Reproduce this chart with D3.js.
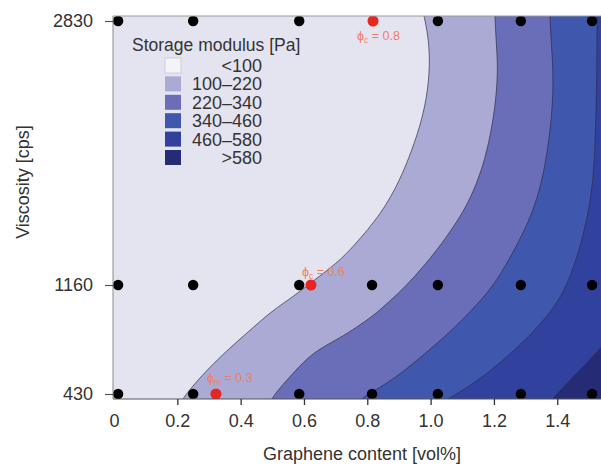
<!DOCTYPE html>
<html><head><meta charset="utf-8">
<script src="https://cdn.jsdelivr.net/npm/d3@7"></script>
<style>
body{margin:0;background:#fff}
svg{display:block}
text{font-family:"Liberation Sans",Arial,Helvetica,sans-serif}
</style>
</head><body>
<svg id="chart" width="601" height="466"></svg>
<script>
// ---------- data ----------
const xTicks = [0, 0.2, 0.4, 0.6, 0.8, 1.0, 1.2, 1.4];
const yTicks = [430, 1160, 2830];
const legendTitle = "Storage modulus [Pa]";
const legendLabels = ["<100", "100–220", "220–340", "340–460", "460–580", ">580"];
const thresholds = [100, 220, 340, 460, 580];

// contour lines [graphene vol%, viscosity cps]
const contour100 = [[0.2116,363],[0.218,410],[0.3127,638],[0.4201,839],[0.5022,993],[0.5654,1080],[0.6286,1185],[0.7044,1299],[0.7549,1400],[0.8465,1615],[0.9033,1824],[0.9413,2014],[0.9728,2204],[0.9918,2394],[0.9981,2583],[0.9918,2742],[0.9791,2862],[0.9728,2925]];
const contour220 = [[0.4927,363],[0.4991,410],[0.5654,571],[0.6286,711],[0.7138,805],[0.7675,879],[0.8181,952],[0.8718,1053],[0.9255,1160],[0.9728,1268],[1.0202,1381],[1.0771,1540],[1.1244,1698],[1.1655,1906],[1.1908,2122],[1.2066,2330],[1.2129,2539],[1.2066,2710],[1.2034,2862],[1.2003,2925]];
const contour340 = [[0.7738,363],[0.7833,403],[0.8149,443],[0.8939,544],[0.9886,711],[1.0613,845],[1.1244,979],[1.1971,1147],[1.2508,1331],[1.2982,1508],[1.3361,1698],[1.3613,1906],[1.3771,2122],[1.3866,2330],[1.3866,2539],[1.3803,2710],[1.3771,2862],[1.374,2925]];
const contour460 = [[1.0455,363],[1.0518,397],[1.0834,430],[1.1655,544],[1.2603,711],[1.3455,892],[1.4087,1060],[1.4498,1255],[1.4782,1445],[1.5035,1666],[1.5161,1887],[1.5224,2204],[1.5256,2583],[1.5256,2862],[1.5256,2925]];
const contour580 = [[1.3771,363],[1.3866,403],[1.4182,470],[1.4498,544],[1.4972,644],[1.5509,772]];
const contours = [contour100, contour220, contour340, contour460, contour580];

// measurement points
const row2830 = [0.013, 0.25, 0.585, 1.023, 1.285, 1.51];
const row1160 = [0.013, 0.25, 0.585, 0.815, 1.023, 1.285, 1.51];
const row430  = [0.013, 0.25, 0.585, 0.815, 1.023, 1.285, 1.51];
// percolation points
const critX = [0.818, 0.622, 0.322];
const critY = [2830, 1160, 430];
const critSub = ["c", "c", "m"];
const critVal = ["0.8", "0.6", "0.3"];

// ---------- styles ----------
const bandColors = ["#e4e4f0", "#aaaad4", "#6a6db8", "#3f57ac", "#30429e", "#252b74"];
const legendSwatch0 = "#f3f3f8";
const labelOffsets = [[-16, 19], [-9, -9], [-9, -12]];

// ---------- layout ----------
const svg = d3.select("#chart");
const L = 113, R = 601, T = 16, B = 399;
const x = d3.scaleLinear().domain([0, 1.535]).range([114, 600]);
const y = d3.scaleLinear().domain([430, 1160, 2830]).range([394, 285, 21]);

svg.append("defs").append("clipPath").attr("id", "clip")
  .append("rect").attr("x", L).attr("y", T).attr("width", R - L).attr("height", B - T);

const plot = svg.append("g").attr("clip-path", "url(#clip)");
plot.append("rect").attr("x", L).attr("y", T).attr("width", R - L).attr("height", B - T)
  .attr("fill", bandColors[0]);

const line = d3.line().x(d => x(d[0])).y(d => y(d[1])).curve(d3.curveBasis);

contours.forEach((c, i) => {
  const last = c[c.length - 1];
  const corners = y(last[1]) < T ? [[650, -50], [650, 500]] : [[650, 500]];
  const d = line(c) + corners.map(p => "L" + p[0] + "," + p[1]).join("") + "Z";
  plot.append("path").attr("d", d).attr("fill", bandColors[i + 1]);
});
contours.forEach(c => {
  plot.append("path").attr("d", line(c)).attr("fill", "none")
    .attr("stroke", "#2b2b45").attr("stroke-width", 0.8).attr("stroke-opacity", 0.85);
});

// measurement dots
const dots = [].concat(
  row2830.map(v => [v, 2830]),
  row1160.map(v => [v, 1160]),
  row430.map(v => [v, 430]));
plot.selectAll("circle.m").data(dots).enter().append("circle")
  .attr("class", "m").attr("cx", d => x(d[0])).attr("cy", d => y(d[1])).attr("r", 5.2).attr("fill", "#000");
plot.selectAll("circle.c").data(critX).enter().append("circle")
  .attr("class", "c").attr("cx", d => x(d)).attr("cy", (d, i) => y(critY[i])).attr("r", 5.5).attr("fill", "#e8251f");

// labels for critical points
critX.forEach((cx, i) => {
  const t = svg.append("text")
    .attr("x", x(cx) + labelOffsets[i][0]).attr("y", y(critY[i]) + labelOffsets[i][1])
    .attr("font-size", 12.5).attr("fill", "#f27c64");
  t.append("tspan").text("ϕ");
  t.append("tspan").attr("font-size", 8.5).attr("dy", 3).text(critSub[i]);
  t.append("tspan").attr("dy", -3).text(" = " + critVal[i]);
});

// frame
svg.append("line").attr("x1", L).attr("x2", R).attr("y1", T).attr("y2", T).attr("stroke", "#9a9a9a").attr("stroke-width", 1);
svg.append("line").attr("x1", L).attr("x2", L).attr("y1", T).attr("y2", B).attr("stroke", "#8a8a8a").attr("stroke-width", 1);
svg.append("line").attr("x1", L).attr("x2", R).attr("y1", B).attr("y2", B).attr("stroke", "#555").attr("stroke-width", 1.2);

// axes
const xAxis = svg.append("g").attr("transform", `translate(0,${B})`)
  .call(d3.axisBottom(x).tickValues(xTicks).tickSize(6).tickPadding(9)
    .tickFormat(d => d === 0 ? "0" : d3.format(".1f")(d)));
xAxis.select(".domain").remove();
xAxis.selectAll(".tick line").attr("stroke", "#333").attr("stroke-width", 1.3)
  .filter(d => d === 0).remove();
xAxis.selectAll("text").attr("font-size", 18).attr("fill", "#333").attr("font-family", "Liberation Sans, Arial, sans-serif");

const yAxis = svg.append("g").attr("transform", `translate(${L},0)`)
  .call(d3.axisLeft(y).tickValues(yTicks).tickSize(8).tickPadding(12).tickFormat(d3.format("d")));
yAxis.select(".domain").remove();
yAxis.selectAll(".tick line").attr("stroke", "#555").attr("stroke-width", 1.2);
yAxis.selectAll("text").attr("font-size", 18).attr("fill", "#333").attr("font-family", "Liberation Sans, Arial, sans-serif");

svg.append("text").attr("x", 362).attr("y", 460).attr("text-anchor", "middle")
  .attr("font-size", 18).attr("fill", "#333").text("Graphene content [vol%]");
svg.append("text").attr("transform", "translate(29,182) rotate(-90)").attr("text-anchor", "middle")
  .attr("font-size", 18).attr("fill", "#333").text("Viscosity [cps]");

// legend
const lg = svg.append("g");
lg.append("text").attr("x", 132).attr("y", 51).attr("font-size", 17.5).attr("fill", "#333").text(legendTitle);
legendLabels.forEach((lab, i) => {
  const yy = 58 + i * 18.4;
  lg.append("rect").attr("x", 165).attr("y", yy).attr("width", 16).attr("height", 15)
    .attr("fill", i === 0 ? legendSwatch0 : bandColors[i])
    .attr("stroke", i === 0 ? "#c8c8d0" : "none").attr("stroke-width", 0.8);
  lg.append("text").attr("x", 262).attr("y", yy + 14).attr("text-anchor", "end")
    .attr("font-size", 18).attr("fill", "#333").text(lab);
});
</script>
</body></html>
